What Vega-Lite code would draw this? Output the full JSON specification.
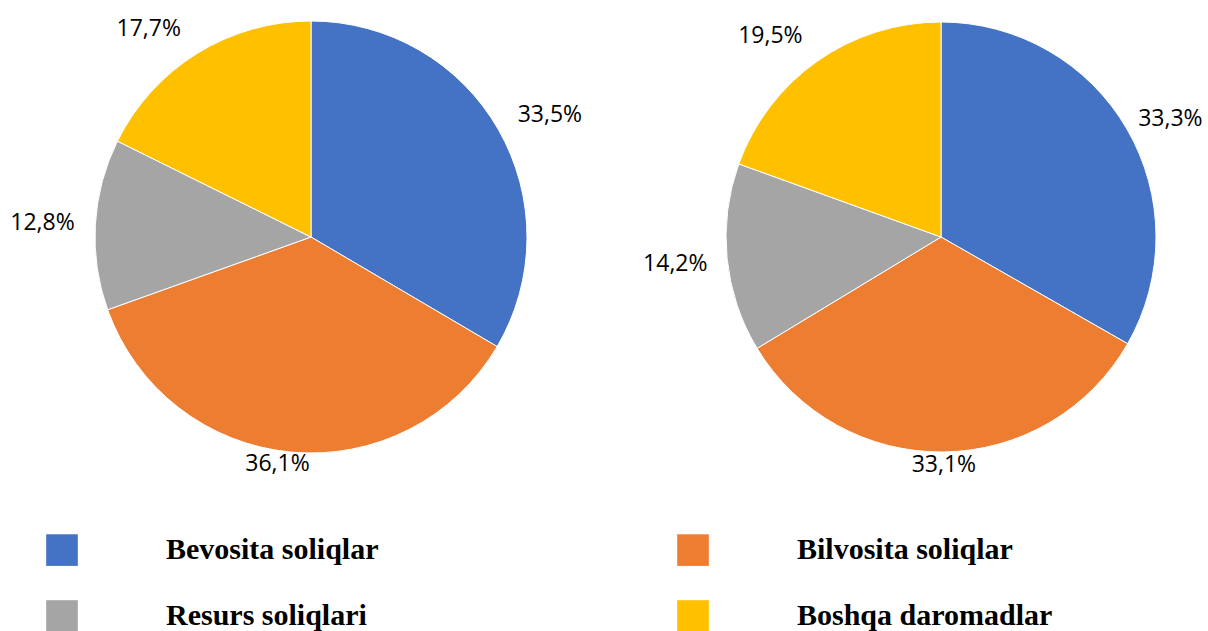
{
  "$schema": "https://vega.github.io/schema/vega-lite/v6.json",
  "padding": 0,
  "background": "white",
  "spacing": 52,
  "bounds": "flush",
  "config": {
    "view": {"stroke": null},
    "text": {"font": "Open Sans", "fontSize": 23, "fill": "black"},
    "locale": {"number": {"decimal": ",", "thousands": " ", "grouping": [3], "currency": ["", ""]}}
  },
  "data": {
    "values": [
      {"panel": "A", "idx": 1, "category": "Bevosita soliqlar", "value": 0.335},
      {"panel": "A", "idx": 2, "category": "Bilvosita soliqlar", "value": 0.361},
      {"panel": "A", "idx": 3, "category": "Resurs soliqlari", "value": 0.128},
      {"panel": "A", "idx": 4, "category": "Boshqa daromadlar", "value": 0.177},
      {"panel": "B", "idx": 1, "category": "Bevosita soliqlar", "value": 0.333},
      {"panel": "B", "idx": 2, "category": "Bilvosita soliqlar", "value": 0.331},
      {"panel": "B", "idx": 3, "category": "Resurs soliqlari", "value": 0.142},
      {"panel": "B", "idx": 4, "category": "Boshqa daromadlar", "value": 0.195}
    ]
  },
  "resolve": {"scale": {"color": "shared"}, "legend": {"color": "shared"}},
  "hconcat": [
    {
      "width": 622,
      "height": 472,
      "transform": [{"filter": "datum.panel == 'A'"}],
      "encoding": {
        "theta": {"field": "value", "type": "quantitative", "stack": true},
        "order": {"field": "idx", "type": "quantitative"}
      },
      "layer": [
        {
          "mark": {"type": "arc", "radius": 216, "stroke": "white", "strokeWidth": 1},
          "encoding": {
            "color": {
              "field": "category",
              "type": "nominal",
              "scale": {
                "domain": ["Bevosita soliqlar", "Resurs soliqlari", "Bilvosita soliqlar", "Boshqa daromadlar"],
                "range": ["#4472C4", "#A5A5A5", "#ED7D31", "#FFC000"]
              },
              "legend": {
                "orient": "none",
                "legendX": 46,
                "legendY": 533,
                "title": null,
                "columns": 2,
                "symbolType": "square",
                "symbolSize": 1000,
                "symbolStrokeWidth": 0,
                "symbolOpacity": 1,
                "labelFont": "Liberation Serif",
                "labelFontSize": 30,
                "labelFontWeight": "bold",
                "labelColor": "black",
                "labelOffset": 88,
                "labelLimit": 500,
                "columnPadding": 298,
                "rowPadding": 34
              }
            }
          }
        },
        {
          "mark": {"type": "text", "radius": 266, "dx": 8, "dy": 10},
          "encoding": {"text": {"field": "value", "type": "quantitative", "format": ".1%", "condition": {"test": "datum.idx != 1", "value": ""}}}
        },
        {
          "mark": {"type": "text", "radius": 229, "dx": -12, "dy": -1},
          "encoding": {"text": {"field": "value", "type": "quantitative", "format": ".1%", "condition": {"test": "datum.idx != 2", "value": ""}}}
        },
        {
          "mark": {"type": "text", "radius": 266, "dx": -3, "dy": 1},
          "encoding": {"text": {"field": "value", "type": "quantitative", "format": ".1%", "condition": {"test": "datum.idx != 3", "value": ""}}}
        },
        {
          "mark": {"type": "text", "radius": 266, "dx": -22, "dy": 18},
          "encoding": {"text": {"field": "value", "type": "quantitative", "format": ".1%", "condition": {"test": "datum.idx != 4", "value": ""}}}
        }
      ]
    },
    {
      "width": 534,
      "height": 472,
      "transform": [{"filter": "datum.panel == 'B'"}],
      "encoding": {
        "theta": {"field": "value", "type": "quantitative", "stack": true},
        "order": {"field": "idx", "type": "quantitative"}
      },
      "layer": [
        {
          "mark": {"type": "arc", "radius": 215, "stroke": "white", "strokeWidth": 1},
          "encoding": {"color": {"field": "category", "type": "nominal"}}
        },
        {
          "mark": {"type": "text", "radius": 264, "dx": 1, "dy": 14},
          "encoding": {"text": {"field": "value", "type": "quantitative", "format": ".1%", "condition": {"test": "datum.idx != 1", "value": ""}}}
        },
        {
          "mark": {"type": "text", "radius": 228, "dx": 0, "dy": 0},
          "encoding": {"text": {"field": "value", "type": "quantitative", "format": ".1%", "condition": {"test": "datum.idx != 2", "value": ""}}}
        },
        {
          "mark": {"type": "text", "radius": 264, "dx": -3, "dy": 1},
          "encoding": {"text": {"field": "value", "type": "quantitative", "format": ".1%", "condition": {"test": "datum.idx != 3", "value": ""}}}
        },
        {
          "mark": {"type": "text", "radius": 264, "dx": -19, "dy": 15},
          "encoding": {"text": {"field": "value", "type": "quantitative", "format": ".1%", "condition": {"test": "datum.idx != 4", "value": ""}}}
        }
      ]
    }
  ]
}
